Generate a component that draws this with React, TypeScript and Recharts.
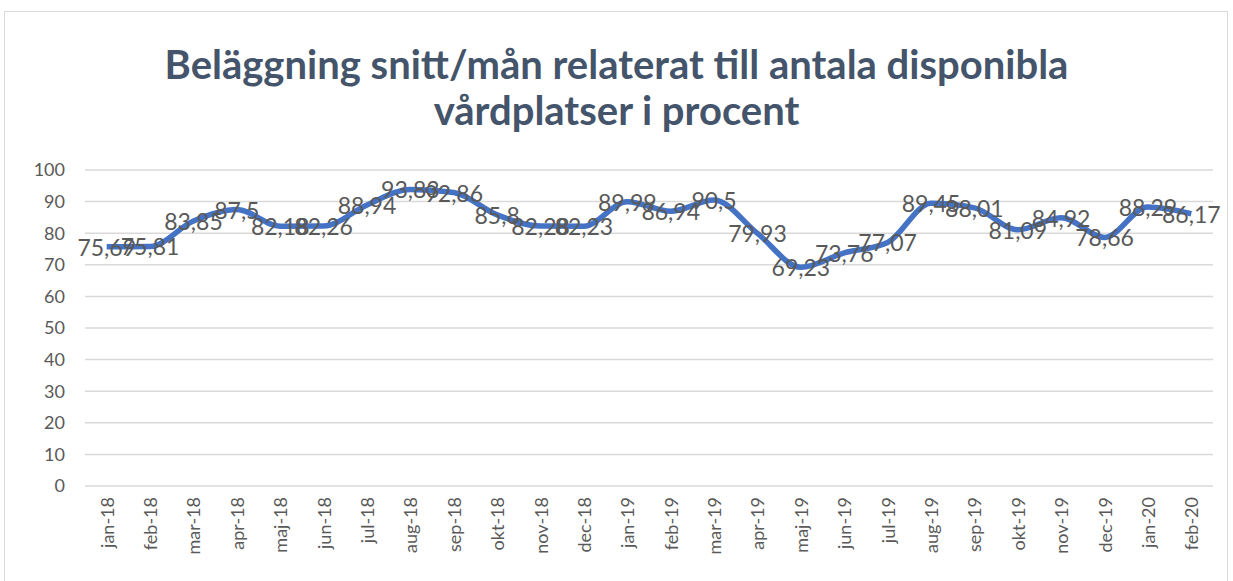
import { LineChart, Line, XAxis, YAxis, CartesianGrid, LabelList } from "recharts";

const months = [
  "jan-18", "feb-18", "mar-18", "apr-18", "maj-18", "jun-18", "jul-18", "aug-18", "sep-18",
  "okt-18", "nov-18", "dec-18", "jan-19", "feb-19", "mar-19", "apr-19", "maj-19", "jun-19",
  "jul-19", "aug-19", "sep-19", "okt-19", "nov-19", "dec-19", "jan-20", "feb-20",
];

const occupancy = [
  75.69, 75.81, 83.85, 87.5, 82.18, 82.26, 88.94, 93.83, 92.86,
  85.8, 82.28, 82.23, 89.99, 86.94, 90.5, 79.93, 69.23, 73.76,
  77.07, 89.45, 88.01, 81.09, 84.92, 78.66, 88.29, 86.17,
];

const yTicks = [0, 10, 20, 30, 40, 50, 60, 70, 80, 90, 100];

const data = months.map((m, i) => ({ month: m, idx: i + 0.5, value: occupancy[i] }));
const boundaryTicks = months.map((_, i) => i).concat([months.length]);

const textColor = "#595959";
const font = "Lato, 'Open Sans', sans-serif";

function ValueLabel(props: any) {
  const { x, y, value } = props;
  return (
    <text
      x={x}
      y={y}
      textAnchor="middle"
      dominantBaseline="central"
      fill={textColor}
      fontSize={23}
      fontFamily={font}
    >
      {String(value).replace(".", ",")}
    </text>
  );
}

function MonthTick(props: any) {
  const { x, y, payload } = props;
  return (
    <text
      x={x}
      y={y}
      transform={`rotate(-90 ${x} ${y})`}
      textAnchor="end"
      dominantBaseline="central"
      fill={textColor}
      fontSize={18}
      fontFamily={font}
    >
      {payload.value}
    </text>
  );
}

export default function App() {
  return (
    <div style={{ position: "absolute", left: 0, top: 0, width: 1233, height: 581, background: "#fff", overflow: "hidden" }}>
      <div
        style={{
          position: "absolute",
          left: 4,
          top: 11,
          width: 1224,
          height: 600,
          border: "1px solid #D9D9D9",
          boxSizing: "border-box",
        }}
      />
      <div
        style={{
          position: "absolute",
          left: 0,
          top: 41,
          width: 1233,
          textAlign: "center",
          fontFamily: font,
          fontWeight: 700,
          fontSize: 40,
          lineHeight: "46px",
          color: "#44546A",
        }}
      >
        Beläggning snitt/mån relaterat till antala disponibla
        <br />
        vårdplatser i procent
      </div>
      <div style={{ position: "absolute", left: 0, top: 0 }}>
        <LineChart
          width={1233}
          height={581}
          data={data}
          margin={{ top: 170, right: 20, bottom: 0, left: 35 }}
        >
          <CartesianGrid vertical={false} stroke="#D9D9D9" strokeWidth={1.5} />
          <XAxis
            xAxisId="ticks"
            type="number"
            dataKey="idx"
            domain={[0, months.length]}
            ticks={boundaryTicks}
            tick={false}
            tickSize={8}
            height={0}
            stroke="#D9D9D9"
            strokeWidth={1.5}
            allowDataOverflow
          />
          <XAxis
            xAxisId="cat"
            dataKey="month"
            scale="band"
            interval={0}
            axisLine={false}
            tickLine={false}
            tickSize={0}
            tickMargin={11}
            height={95}
            tick={<MonthTick />}
          />
          <YAxis
            domain={[0, 100]}
            ticks={yTicks}
            interval={0}
            width={50}
            axisLine={false}
            tickLine={false}
            tickSize={0}
            tickMargin={20}
            tick={{ fill: textColor, fontSize: 18, fontFamily: font }}
          />
          <Line
            xAxisId="cat"
            dataKey="value"
            type="monotone"
            stroke="#4472C4"
            strokeWidth={5.5}
            dot={false}
            isAnimationActive={false}
          >
            <LabelList dataKey="value" content={<ValueLabel />} />
          </Line>
        </LineChart>
      </div>
    </div>
  );
}
